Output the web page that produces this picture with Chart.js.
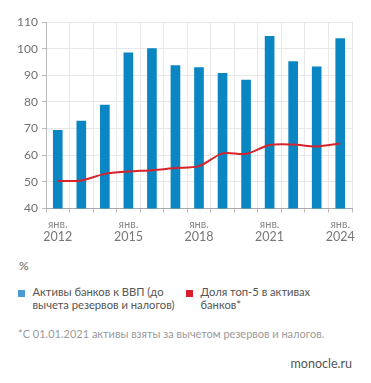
<!DOCTYPE html>
<html><head><meta charset="utf-8">
<script src="https://cdn.jsdelivr.net/npm/chart.js@4"></script>
<style>
html,body{margin:0;padding:0;background:#fff;}
#wrap{position:relative;width:371px;height:383px;font-family:Lato,"Open Sans",sans-serif;}
#cbox{position:absolute;left:0;top:0;width:371px;height:250px;}
.t{position:absolute;white-space:nowrap;}
.lg{position:absolute;top:286px;font-size:11.2px;line-height:12.8px;color:#555;}
.lg i{position:absolute;left:-14.5px;top:3.5px;width:7px;height:7px;}
</style></head><body>
<div id="wrap">
<div id="cbox"><canvas id="c"></canvas></div>
<div class="t" id="pct" style="left:19px;top:258px;font-size:12px;color:#666;">%</div>
<div class="t lg" id="lg0" style="left:32.5px;"></div>
<div class="t lg" id="lg1" style="left:200.5px;"></div>
<div class="t" id="foot" style="left:18px;top:327px;font-size:11px;color:#9a9a9a;">*С 01.01.2021 активы взяты за вычетом резервов и налогов.</div>
<div class="t" id="site" style="right:19px;top:356px;font-size:12.5px;color:#555;">monocle.ru</div>
</div>
<script>
const categories = ['2012','2013','2014','2015','2016','2017','2018','2019','2020','2021','2022','2023','2024'];
const assetsToGDP = [69.3, 72.8, 78.8, 98.4, 100.0, 93.6, 92.9, 90.7, 88.2, 104.6, 95.1, 93.2, 103.8];
const top5Share = [50.3, 50.5, 53.0, 53.9, 54.4, 55.2, 55.9, 60.7, 60.5, 63.8, 64.0, 63.3, 64.4];
const shownYears = ['2012','2015','2018','2021','2024'];
const monthLabel = 'янв.';
const seriesNames = [['Активы банков к ВВП (до','вычета резервов и налогов)'], ['Доля топ-5 в активах','банков*']];
const legendColors = ['#4a9ad6', '#d81e2a'];
const yTicks = {min: 40, max: 110, step: 10};

// HTML legend built from series names
seriesNames.forEach((lines, k) => {
  const el = document.getElementById('lg' + k);
  const sw = document.createElement('i');
  sw.style.background = legendColors[k];
  el.appendChild(sw);
  lines.forEach((ln, j) => {
    if (j) el.appendChild(document.createElement('br'));
    el.appendChild(document.createTextNode(ln));
  });
});

const FONT = 'Lato, "Open Sans", sans-serif';
const padL = 6;
new Chart(document.getElementById('c'), {
  data: {
    labels: categories,
    datasets: [
      {type:'line', label: seriesNames[1].join(' '), data: top5Share, borderColor:'#d8232a', backgroundColor:'#d8232a', borderWidth:2, pointRadius:0, tension:0.3, order:0, xAxisID:'x'},
      {type:'bar', label: seriesNames[0].join(' '), data: assetsToGDP, backgroundColor:'#0a87c2', borderWidth:0, barThickness:9, order:1, xAxisID:'x'}
    ]
  },
  options: {
    responsive:true, maintainAspectRatio:false, animation:false,
    layout:{padding:{left:padL, right:19, top:22, bottom:0}},
    plugins:{ tooltip:{enabled:false}, legend:{display:false} },
    scales:{
      y:{
        min:yTicks.min, max:yTicks.max,
        ticks:{stepSize:yTicks.step, color:'#707070', font:{family:FONT, size:12}, padding:4},
        grid:{color:'#e8e8e8', tickLength:4, tickColor:'#bbb'},
        border:{color:'#bbb'},
        afterFit(s){ s.width = 46 - padL; }
      },
      x:{
        type:'category', position:'bottom', weight:0,
        grid:{color:'#e8e8e8', offset:true, tickLength:4, tickColor:'#bbb'},
        border:{color:'#aaa'},
        ticks:{autoSkip:false, maxRotation:0, color:'#888', font:{family:FONT, size:11}, padding:5,
          callback(v, i){ return shownYears.includes(categories[i]) ? monthLabel : ''; }},
        afterFit(s){ s.height = 21; }
      },
      x2:{
        type:'category', position:'bottom', weight:1, labels:categories, offset:true,
        grid:{display:false, drawTicks:false}, border:{display:false},
        ticks:{autoSkip:false, maxRotation:0, color:'#777', font:{family:FONT, size:12.5}, padding:0,
          callback(v, i){ return shownYears.includes(categories[i]) ? categories[i] : ''; }},
        afterFit(s){ s.height = 20.5; }
      }
    }
  }
});
</script>
</body></html>
